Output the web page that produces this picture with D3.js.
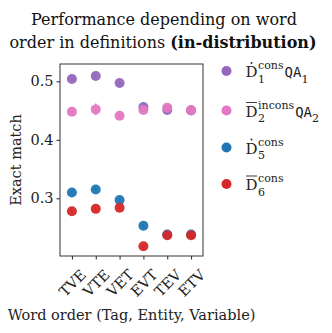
<!DOCTYPE html>
<html lang="en">
<head>
  <meta charset="UTF-8">
  <title>Word order</title>
</head>
<body>
<style>
  * {
    padding: 0;
    margin: 0;
  }

  body {
    background: #fff;
  }

  #app svg {
    display: block;
  }
</style>

<div id="app"></div>

<script src="https://cdn.jsdelivr.net/npm/d3@7/dist/d3.min.js"></script>
<script>
  // categories and values
  var orders = ['TVE', 'VTE', 'VET', 'EVT', 'TEV', 'ETV'];
  var yTicks = [0.3, 0.4, 0.5];

  var d1cons = [0.504, 0.509, 0.497, 0.456, 0.451, 0.450];
  var d2incons = [0.448, 0.452, 0.441, 0.451, 0.455, 0.451];
  var d5cons = [0.310, 0.315, 0.297, 0.253, 0.238, 0.238];
  var d6cons = [0.278, 0.282, 0.284, 0.218, 0.237, 0.237];

  var d1err = [0.003, 0.003, 0.006, 0.004, 0.003, 0.003];
  var d2err = [0.003, 0.010, 0.003, 0.003, 0.003, 0.003];
  var d5err = [0.003, 0.003, 0.003, 0.003, 0.003, 0.003];
  var d6err = [0.003, 0.003, 0.003, 0.003, 0.003, 0.003];

  var series = [
    {values: d1cons, err: d1err, color: '#9467bd', mark: 'dot', sup: 'cons', sub: '1', qa: 'QA', qaSub: '1'},
    {values: d2incons, err: d2err, color: '#e377c2', mark: 'bar', sup: 'incons', sub: '2', qa: 'QA', qaSub: '2'},
    {values: d5cons, err: d5err, color: '#1f77b4', mark: 'dot', sup: 'cons', sub: '5'},
    {values: d6cons, err: d6err, color: '#d62728', mark: 'bar', sup: 'cons', sub: '6'}
  ];

  var SERIF = 'DejaVu Serif';
  var MONO = 'DejaVu Sans Mono';

  function draw() {
    var W = 332, H = 333;
    var plot = {left: 60, right: 203, top: 64, bottom: 256};

    var svg = d3.select('#app').append('svg').attr('width', W).attr('height', H)
      .attr('font-family', SERIF);

    var x = d3.scalePoint().domain(orders).range([plot.left, plot.right]).padding(0.5);
    var y = d3.scaleLinear().domain([0.2014, 0.5296]).range([plot.bottom, plot.top]);

    // title
    var title = svg.append('text').attr('text-anchor', 'middle').attr('font-size', 16).attr('fill', '#111');
    title.append('tspan').attr('x', 164).attr('y', 25).text('Performance depending on word');
    var l2 = title.append('tspan').attr('x', 163).attr('y', 48);
    l2.append('tspan').text('order in definitions ');
    l2.append('tspan').attr('font-weight', 'bold').text('(in-distribution)');

    // axes
    var yAxis = d3.axisLeft(y).tickValues(yTicks).tickSize(3.5).tickPadding(3).tickFormat(d3.format('.1f'));
    var gy = svg.append('g').attr('transform', 'translate(' + plot.left + ',0)').call(yAxis);
    gy.attr('font-family', SERIF);
    gy.select('.domain').remove();
    gy.selectAll('text').attr('font-size', 14.5).attr('fill', '#222');
    gy.selectAll('line').attr('stroke', '#222');

    var xAxis = d3.axisBottom(x).tickSize(3.5).tickPadding(2);
    var gx = svg.append('g').attr('transform', 'translate(0,' + plot.bottom + ')').call(xAxis);
    gx.attr('font-family', SERIF);
    gx.select('.domain').remove();
    gx.selectAll('line').attr('stroke', '#222');
    // rotated labels centred under their tick, like matplotlib's rotation=45
    gx.selectAll('text')
      .attr('font-size', 14.5).attr('fill', '#222')
      .attr('text-anchor', 'middle').attr('y', 0).attr('dy', '0.35em')
      .attr('transform', 'translate(0,27) rotate(-45)');

    // frame
    svg.append('rect')
      .attr('x', plot.left).attr('y', plot.top)
      .attr('width', plot.right - plot.left).attr('height', plot.bottom - plot.top)
      .attr('fill', 'none').attr('stroke', '#333').attr('stroke-width', 1);

    // points with error bars
    series.forEach(function (s) {
      var g = svg.append('g');
      g.selectAll('line').data(s.values).join('line')
        .attr('x1', (d, i) => x(orders[i])).attr('x2', (d, i) => x(orders[i]))
        .attr('y1', (d, i) => y(d - s.err[i])).attr('y2', (d, i) => y(d + s.err[i]))
        .attr('stroke', s.color).attr('stroke-width', 1.5);
      g.selectAll('circle').data(s.values).join('circle')
        .attr('cx', (d, i) => x(orders[i])).attr('cy', d => y(d))
        .attr('r', 5).attr('fill', s.color).attr('fill-opacity', 0.95);
    });

    // axis labels
    svg.append('text').attr('text-anchor', 'middle').attr('font-size', 14.5).attr('fill', '#222')
      .attr('transform', 'translate(21,' + ((plot.top + plot.bottom) / 2) + ') rotate(-90)')
      .text('Exact match');
    svg.append('text').attr('text-anchor', 'middle').attr('font-size', 14.5).attr('fill', '#222')
      .attr('x', (plot.left + plot.right) / 2).attr('y', 320)
      .text('Word order (Tag, Entity, Variable)');

    // legend
    var legY = [71, 110.5, 147.5, 184];
    series.forEach(function (s, i) {
      var g = svg.append('g').attr('transform', 'translate(226.5,' + legY[i] + ')');
      g.append('circle').attr('r', 5).attr('fill', s.color);
      var tx = 19, base = 6;
      var D = g.append('text').attr('x', tx).attr('y', base).attr('font-size', 15).attr('fill', '#222').text('D');
      var dw = D.node().getComputedTextLength();
      if (s.mark === 'dot') {
        g.append('circle').attr('cx', tx + dw / 2).attr('cy', base - 14).attr('r', 0.9).attr('fill', '#222');
      } else {
        g.append('line').attr('x1', tx + 0.5).attr('x2', tx + dw - 0.5)
          .attr('y1', base - 14).attr('y2', base - 14).attr('stroke', '#222').attr('stroke-width', 0.9);
      }
      var sup = g.append('text').attr('x', tx + dw + 0.5).attr('y', base - 8).attr('font-size', 11).attr('fill', '#222').text(s.sup);
      var sub = g.append('text').attr('x', tx + dw + 0.5).attr('y', base + 5.5).attr('font-size', 11).attr('fill', '#222').text(s.sub);
      if (s.qa) {
        var w = Math.max(sup.node().getComputedTextLength(), sub.node().getComputedTextLength());
        var qx = tx + dw + 0.5 + w + 1;
        var qa = g.append('text').attr('x', qx).attr('y', base).attr('font-size', 14)
          .attr('font-family', MONO).attr('fill', '#222').text(s.qa);
        var qw = qa.node().getComputedTextLength();
        g.append('text').attr('x', qx + qw).attr('y', base + 5.5).attr('font-size', 11).attr('fill', '#222').text(s.qaSub);
      }
    });
  }

  draw();
</script>

</body>
</html>
